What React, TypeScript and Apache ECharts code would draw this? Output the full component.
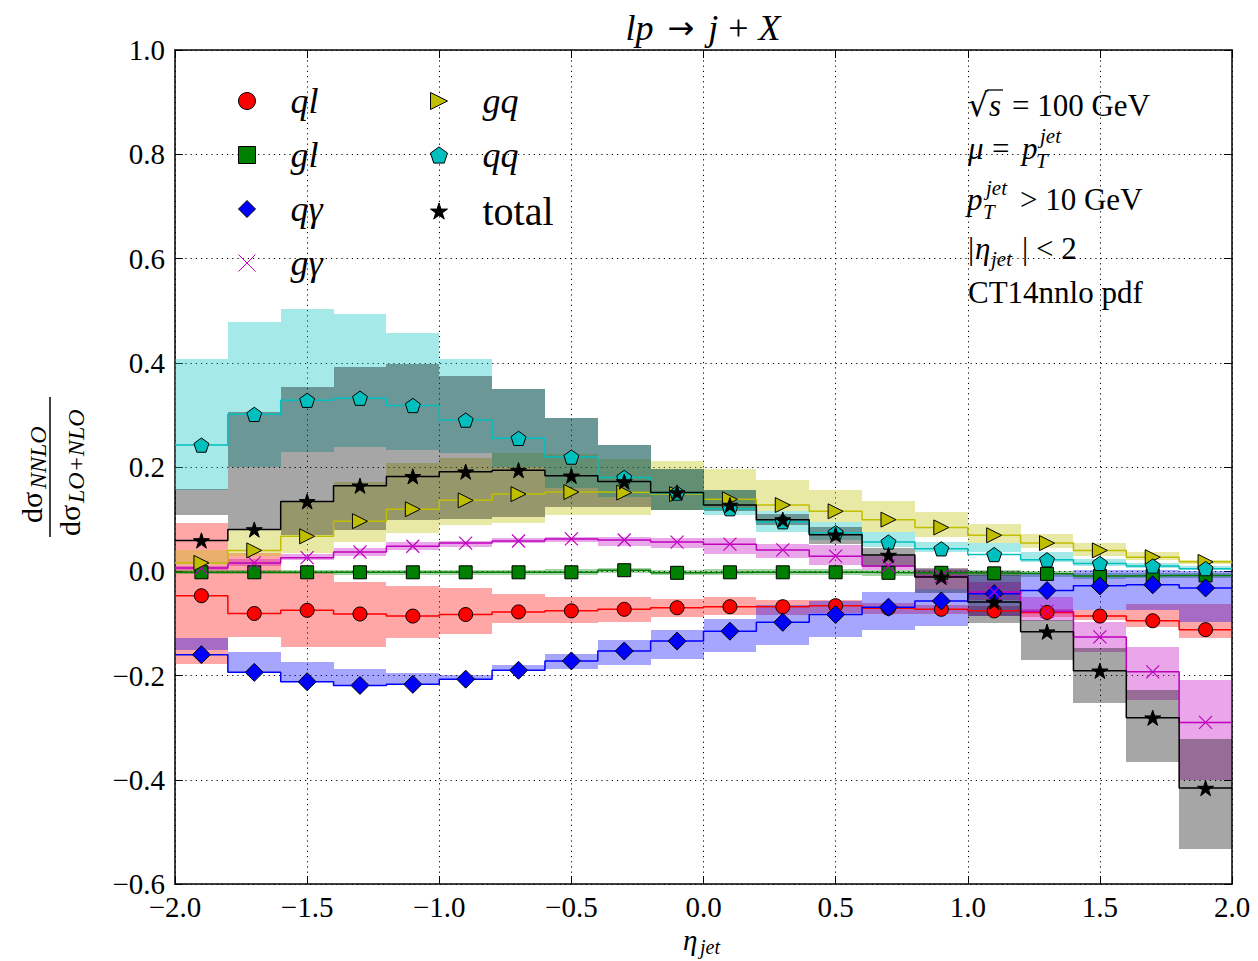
import React, { useEffect, useRef } from 'react';
import * as echarts from 'echarts';

// ---------------- data ----------------
const etaCenters = [-1.9, -1.7, -1.5, -1.3, -1.1, -0.9, -0.7, -0.5, -0.3, -0.1, 0.1, 0.3, 0.5, 0.7, 0.9, 1.1, 1.3, 1.5, 1.7, 1.9];

const qlCentral = [-0.047, -0.081, -0.075, -0.082, -0.086, -0.083, -0.078, -0.076, -0.073, -0.070, -0.068, -0.068, -0.066, -0.071, -0.073, -0.076, -0.079, -0.086, -0.095, -0.112];
const qlLow = [-0.177, -0.126, -0.146, -0.146, -0.129, -0.120, -0.100, -0.100, -0.097, -0.088, -0.084, -0.084, -0.080, -0.082, -0.082, -0.085, -0.088, -0.094, -0.107, -0.129];
const qlHigh = [0.093, 0.035, -0.004, -0.020, -0.028, -0.033, -0.043, -0.049, -0.049, -0.054, -0.049, -0.056, -0.055, -0.060, -0.065, -0.066, -0.072, -0.075, -0.062, -0.062];

const glCentral = [-0.002, -0.002, -0.002, -0.002, -0.002, -0.002, -0.002, -0.002, 0.002, -0.003, -0.002, -0.002, -0.002, -0.003, -0.003, -0.004, -0.005, -0.009, -0.008, -0.008];
const glLow = [-0.006, -0.006, -0.006, -0.007, -0.007, -0.007, -0.007, -0.008, -0.003, -0.008, -0.008, -0.008, -0.008, -0.009, -0.009, -0.010, -0.011, -0.014, -0.013, -0.013];
const glHigh = [0.003, 0.003, 0.003, 0.003, 0.003, 0.003, 0.003, 0.004, 0.007, 0.003, 0.004, 0.004, 0.004, 0.003, 0.003, 0.002, 0.001, -0.004, -0.003, -0.003];

const qgCentral = [-0.160, -0.194, -0.212, -0.219, -0.217, -0.207, -0.190, -0.172, -0.153, -0.134, -0.115, -0.098, -0.083, -0.069, -0.057, -0.043, -0.037, -0.028, -0.026, -0.032];
const qgLow = [-0.152, -0.196, -0.212, -0.219, -0.219, -0.209, -0.191, -0.187, -0.180, -0.168, -0.155, -0.142, -0.127, -0.113, -0.105, -0.085, -0.078, -0.075, -0.075, -0.097];
const qgHigh = [-0.129, -0.155, -0.174, -0.187, -0.196, -0.199, -0.180, -0.158, -0.132, -0.113, -0.091, -0.065, -0.057, -0.040, -0.035, -0.008, -0.003, 0.002, 0.003, 0.001];

const ggCentral = [0.006, 0.016, 0.026, 0.037, 0.048, 0.054, 0.058, 0.062, 0.060, 0.056, 0.052, 0.041, 0.029, 0.010, -0.010, -0.040, -0.077, -0.126, -0.193, -0.290];
const ggLow = [0.002, 0.010, 0.021, 0.030, 0.040, 0.046, 0.054, 0.056, 0.048, 0.044, 0.034, 0.025, 0.012, 0.003, -0.035, -0.055, -0.095, -0.155, -0.247, -0.401];
const ggHigh = [0.010, 0.024, 0.034, 0.045, 0.056, 0.058, 0.064, 0.066, 0.066, 0.063, 0.063, 0.053, 0.050, 0.030, 0.005, -0.020, -0.050, -0.097, -0.146, -0.209];

const gqCentral = [0.016, 0.040, 0.067, 0.096, 0.119, 0.136, 0.148, 0.152, 0.151, 0.148, 0.138, 0.127, 0.115, 0.099, 0.084, 0.069, 0.054, 0.040, 0.027, 0.018];
const gqLow = [0.014, 0.030, 0.035, 0.056, 0.074, 0.088, 0.092, 0.108, 0.108, 0.117, 0.118, 0.115, 0.095, 0.076, 0.066, 0.054, 0.044, 0.029, 0.021, 0.013];
const gqHigh = [0.040, 0.080, 0.134, 0.172, 0.207, 0.217, 0.226, 0.225, 0.215, 0.212, 0.197, 0.176, 0.155, 0.134, 0.114, 0.091, 0.071, 0.054, 0.037, 0.022];

const qqCentral = [0.242, 0.301, 0.328, 0.332, 0.318, 0.290, 0.255, 0.219, 0.180, 0.150, 0.120, 0.095, 0.074, 0.056, 0.043, 0.032, 0.022, 0.015, 0.010, 0.005];
const qqLow = [0.155, 0.200, 0.229, 0.239, 0.232, 0.226, 0.200, 0.160, 0.143, 0.117, 0.107, 0.076, 0.060, 0.047, 0.037, 0.036, 0.018, 0.010, 0.006, 0.002];
const qqHigh = [0.408, 0.478, 0.504, 0.493, 0.457, 0.407, 0.350, 0.294, 0.242, 0.197, 0.156, 0.115, 0.095, 0.076, 0.057, 0.054, 0.036, 0.024, 0.016, 0.011];

const totalCentral = [0.059, 0.080, 0.134, 0.164, 0.182, 0.191, 0.194, 0.183, 0.172, 0.151, 0.127, 0.099, 0.070, 0.031, -0.011, -0.059, -0.116, -0.191, -0.281, -0.416];
const totalLow = [0.107, 0.080, 0.070, 0.080, 0.098, 0.101, 0.105, 0.123, 0.123, 0.117, 0.115, 0.088, 0.053, 0.008, -0.042, -0.100, -0.170, -0.253, -0.365, -0.532];
const totalHigh = [0.158, 0.306, 0.354, 0.392, 0.398, 0.375, 0.350, 0.294, 0.242, 0.197, 0.156, 0.110, 0.085, 0.045, 0.007, 0.000, -0.094, -0.148, -0.228, -0.321];

const xRange = [-2, 2];
const xTickStep = 0.5;
const yRange = [-0.6, 1.0];
const yTickStep = 0.2;

// ---------------- styling ----------------
const FONT = '"Liberation Serif", "DejaVu Serif", serif';
const PENTAGON = 'path://M50,0L97.55,34.55L79.39,90.45L20.61,90.45L2.45,34.55Z';
const STAR = 'path://M50,0L61.23,34.55L97.55,34.55L68.17,55.9L79.39,90.45L50,69.1L20.61,90.45L31.83,55.9L2.45,34.55L38.77,34.55Z';
const TRI_RIGHT = 'path://M0,0L100,50L0,100Z';
const CROSS = 'path://M0,0L10,10M10,0L0,10';

type Channel = {
  name: string; line: string; band: string; fill: string;
  val: number[]; lo: number[]; hi: number[];
  symbol: string; size: number; stroke?: number;
};

const channels: Channel[] = [
  { name: 'ql', line: '#ff0000', band: 'rgba(255,0,0,0.35)', fill: '#ff0000', val: qlCentral, lo: qlLow, hi: qlHigh, symbol: 'circle', size: 14 },
  { name: 'gl', line: '#008000', band: 'rgba(0,128,0,0.35)', fill: '#008000', val: glCentral, lo: glLow, hi: glHigh, symbol: 'rect', size: 13 },
  { name: 'qγ', line: '#0000ff', band: 'rgba(0,0,255,0.35)', fill: '#0000ff', val: qgCentral, lo: qgLow, hi: qgHigh, symbol: 'diamond', size: 18 },
  { name: 'gγ', line: '#bf00bf', band: 'rgba(191,0,191,0.35)', fill: 'rgba(0,0,0,0)', val: ggCentral, lo: ggLow, hi: ggHigh, symbol: CROSS, size: 13, stroke: 1.2 },
  { name: 'gq', line: '#bfbf00', band: 'rgba(191,191,0,0.35)', fill: '#bfbf00', val: gqCentral, lo: gqLow, hi: gqHigh, symbol: TRI_RIGHT, size: 15 },
  { name: 'qq', line: '#00bfbf', band: 'rgba(0,191,191,0.35)', fill: '#00bfbf', val: qqCentral, lo: qqLow, hi: qqHigh, symbol: PENTAGON, size: 15 },
  { name: 'total', line: '#000000', band: 'rgba(0,0,0,0.35)', fill: '#000000', val: totalCentral, lo: totalLow, hi: totalHigh, symbol: STAR, size: 16 },
];

const halfBin = (etaCenters[1] - etaCenters[0]) / 2;

const fmtTick = (v: number) => {
  const r = Math.round(v * 10) / 10;
  return (r < 0 ? '\u2212' : '') + Math.abs(r).toFixed(1);
};

function buildOption() {
  const series: any[] = [];
  channels.forEach((ch) => {
    series.push({
      type: 'custom',
      name: ch.name + ' band',
      z: 1,
      silent: true,
      clip: true,
      data: etaCenters.map((x, i) => [x, ch.lo[i], ch.hi[i]]),
      encode: { x: 0, y: [1, 2] },
      renderItem: (params: any, api: any) => {
        const x = api.value(0);
        const lo = api.value(1);
        const hi = api.value(2);
        const a = api.coord([x - halfBin, Math.max(lo, hi)]);
        const b = api.coord([x + halfBin, Math.min(lo, hi)]);
        const x0 = Math.round(a[0]);
        const x1 = Math.round(b[0]);
        const y0 = Math.round(a[1]);
        const y1 = Math.max(Math.round(b[1]), y0 + 1);
        return {
          type: 'rect',
          shape: { x: x0, y: y0, width: x1 - x0, height: y1 - y0 },
          style: { fill: ch.band },
        };
      },
    });
  });
  channels.forEach((ch) => {
    series.push({
      type: 'line',
      name: ch.name + ' line',
      z: 2,
      silent: true,
      clip: true,
      showSymbol: false,
      symbol: 'none',
      data: etaCenters.flatMap((x, i) => [[x - halfBin, ch.val[i]], [x + halfBin, ch.val[i]]]),
      lineStyle: { color: ch.line, width: 1.5 },
    });
  });
  channels.forEach((ch) => {
    series.push({
      type: 'scatter',
      name: ch.name,
      z: 3,
      silent: true,
      data: etaCenters.map((x, i) => [x, ch.val[i]]),
      symbol: ch.symbol,
      symbolSize: ch.size,
      symbolKeepAspect: true,
      itemStyle: ch.stroke
        ? { color: ch.fill, borderColor: ch.line, borderWidth: ch.stroke, opacity: 1 }
        : { color: ch.fill, borderColor: '#000', borderWidth: 1, opacity: 1 },
      emphasis: { disabled: true },
    });
  });

  const legendRich = {
    s: { width: 30 },
    i: { fontStyle: 'italic', fontFamily: FONT, fontSize: 36, lineHeight: 36, color: '#000' },
    n: { fontFamily: FONT, fontSize: 40, lineHeight: 36, color: '#000' },
  };
  const legendFmt = (name: string) => (name === 'total' ? `{s| }{n|${name}}` : `{s| }{i|${name}}`);
  const legendBase = {
    orient: 'vertical',
    top: 78,
    itemWidth: 17,
    itemHeight: 17,
    itemGap: 18,
    selectedMode: false,
    formatter: legendFmt,
    itemStyle: { borderWidth: 1 },
    textStyle: { fontFamily: FONT, fontSize: 36, color: '#000', rich: legendRich },
  };

  const axisLine = { show: true, onZero: false, lineStyle: { color: '#000', width: 1.5 } };
  const axisTick = { show: true, inside: true, length: 8, lineStyle: { color: '#000', width: 1 } };
  const splitLine = { show: true, lineStyle: { color: '#000', width: 1, type: [1.2, 4] } };
  const labelStyle = { color: '#000', fontFamily: FONT, fontSize: 29, formatter: fmtTick };

  const T = (text: string, x: number, y: number, size: number, italic = false, family = FONT) => ({
    type: 'text',
    x,
    y,
    silent: true,
    style: {
      text,
      fontFamily: family,
      fontSize: size,
      fontStyle: italic ? 'italic' : 'normal',
      fill: '#000',
      align: 'left',
      verticalAlign: 'middle',
    },
  });

  const A = 31; // annotation font size
  const S = 21; // script font size

  const graphic: any[] = [
    // title
    {
      type: 'text',
      x: 703,
      y: 28,
      silent: true,
      style: {
        text: '{i|lp}{sp| }{a|\u2192}{sp| }{i|j}{sm| }{n|+}{sm| }{i|X}',
        fontFamily: FONT,
        fontSize: 36,
        fill: '#000',
        align: 'center',
        verticalAlign: 'middle',
        rich: {
          i: { fontStyle: 'italic', fontFamily: FONT, fontSize: 36, fill: '#000' },
          n: { fontFamily: FONT, fontSize: 36, fill: '#000' },
          a: { fontFamily: '"DejaVu Sans", sans-serif', fontSize: 32, fill: '#000' },
          sp: { width: 14 },
          sm: { width: 10 },
        },
      },
    },
    // annotation block
    T('\u221A', 968, 105, 32, false, '"DejaVu Serif", serif'),
    T('s', 989, 105, A, true),
    { type: 'line', silent: true, shape: { x1: 987, y1: 90, x2: 1003, y2: 90 }, style: { stroke: '#000', lineWidth: 1.3 } },
    T('= 100 GeV', 1012, 105, A),
    T('\u03BC', 968, 148, A, true),
    T('=', 992, 148, A),
    T('p', 1022, 148, A, true),
    T('jet', 1040, 136, S, true),
    T('T', 1036, 161, S, true),
    T('p', 967, 199, A, true),
    T('jet', 986, 188, S, true),
    T('T', 983, 212, S, true),
    T('> 10 GeV', 1020, 199, A),
    T('|', 968, 248, A),
    T('\u03B7', 975, 248, A, true),
    T('jet', 991, 259, S, true),
    T('| < 2', 1022, 248, A),
    T('CT14nnlo pdf', 968, 292, A),
    // x axis label
    T('\u03B7', 683, 940, 29, true),
    T('jet', 700, 947, 20, true),
    // y axis label (rotated fraction)
    {
      type: 'group',
      x: 50,
      y: 467,
      rotation: Math.PI / 2,
      silent: true,
      children: [
        { type: 'line', shape: { x1: -70, y1: 0, x2: 70, y2: 0 }, style: { stroke: '#000', lineWidth: 1.5 } },
        T('d\u03C3', -56, -19, 30),
        T('NNLO', -22, -12, 24, true),
        T('d\u03C3', -69, 19, 30),
        T('LO+NLO', -36, 26, 24, true),
      ],
    },
  ];

  return {
    animation: false,
    backgroundColor: '#fff',
    grid: { left: 175, right: 26, top: 50, bottom: 77, containLabel: false },
    xAxis: [
      {
        type: 'value', min: xRange[0], max: xRange[1], interval: xTickStep, position: 'bottom',
        axisLine, axisTick, splitLine,
        axisLabel: { ...labelStyle, margin: 8 },
      },
      {
        type: 'value', min: xRange[0], max: xRange[1], interval: xTickStep, position: 'top',
        axisLine, axisTick, splitLine: { show: false }, axisLabel: { show: false },
      },
    ],
    yAxis: [
      {
        type: 'value', min: yRange[0], max: yRange[1], interval: yTickStep, position: 'left',
        axisLine, axisTick, splitLine,
        axisLabel: { ...labelStyle, margin: 10 },
      },
      {
        type: 'value', min: yRange[0], max: yRange[1], interval: yTickStep, position: 'right',
        axisLine, axisTick, splitLine: { show: false }, axisLabel: { show: false },
      },
    ],
    legend: [
      { ...legendBase, left: 233, data: ['ql', 'gl', 'qγ', 'gγ'] },
      { ...legendBase, left: 425, data: ['gq', 'qq', 'total'] },
    ],
    graphic,
    series,
  };
}

export default function App() {
  const ref = useRef<HTMLDivElement>(null);
  useEffect(() => {
    if (!ref.current) return;
    const chart = echarts.init(ref.current, null, { renderer: 'svg' });
    chart.setOption(buildOption() as any);
    return () => chart.dispose();
  }, []);
  return (
    <div
      ref={ref}
      style={{ position: 'fixed', left: 0, top: 0, width: 1258, height: 961, background: '#fff' }}
    />
  );
}
